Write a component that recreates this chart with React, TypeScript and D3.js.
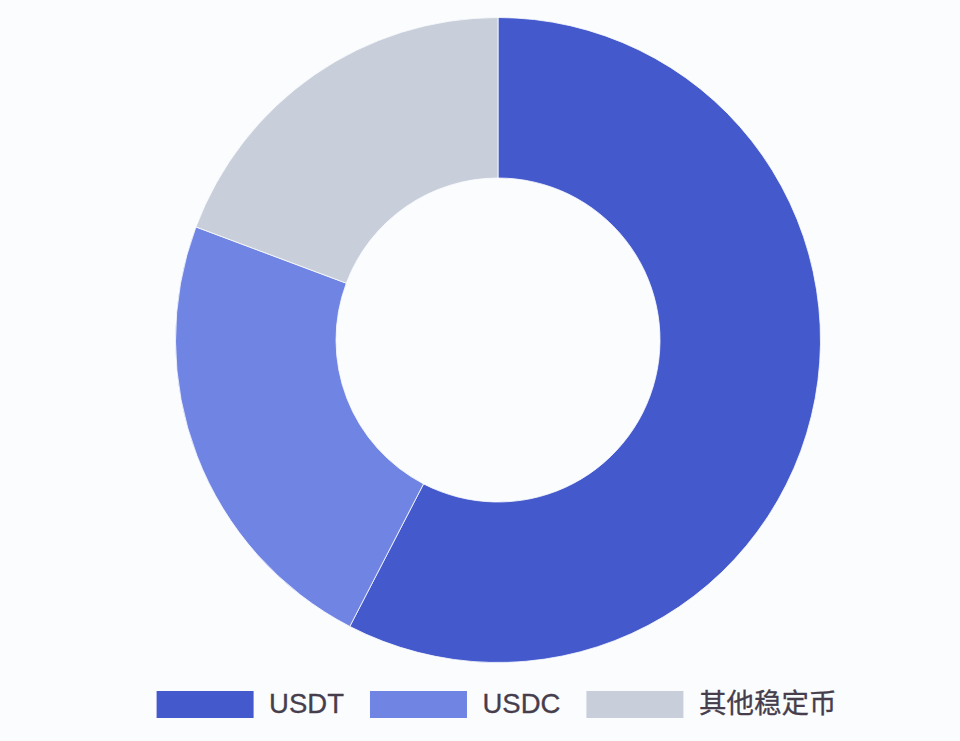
import { useEffect, useRef } from 'react'
import * as d3 from 'd3'

// stablecoin market share (%)
const coins = ['USDT', 'USDC', '其他稳定币']
const shares = [57.6, 23.1, 19.3]
const colors = ['#4459cc', '#7084e4', '#c8cfdb']

const W = 960
const H = 741

export default function App() {
	const ref = useRef<SVGSVGElement>(null)

	useEffect(() => {
		const svg = d3.select(ref.current)
		svg.selectAll('*').remove()

		const cx = 498
		const cy = 340
		const outerR = 322.5
		const innerR = 162

		const pie = d3
			.pie<number>()
			.sort(null)
			.value((d) => d)
		const arc = d3
			.arc<d3.PieArcDatum<number>>()
			.innerRadius(innerR)
			.outerRadius(outerR)

		const color = d3.scaleOrdinal<string, string>().domain(coins).range(colors)

		svg
			.append('g')
			.attr('transform', `translate(${cx},${cy})`)
			.selectAll('path')
			.data(pie(shares))
			.enter()
			.append('path')
			.attr('d', arc)
			.attr('fill', (_d, i) => color(coins[i]))
			.attr('stroke', '#fbfcfe')
			.attr('stroke-width', 0.8)

		// legend, centred under the donut
		const boxW = 97
		const boxH = 27
		const boxGap = 15.5
		const itemGap = 26
		const legendY = 691

		const legend = svg.append('g')
		const items = legend
			.selectAll('g')
			.data(coins)
			.enter()
			.append('g')

		items
			.append('rect')
			.attr('width', boxW)
			.attr('height', boxH)
			.attr('y', legendY)
			.attr('fill', (d) => color(d))

		items
			.append('text')
			.attr('x', boxW + boxGap)
			.attr('y', legendY + 22.3)
			.style('font-family', '"Liberation Sans", Arial, "Noto Sans CJK SC", sans-serif')
			.style('font-size', '27.5px')
			.attr('fill', '#463e4c')
			.attr('stroke', '#463e4c')
			.attr('stroke-width', 0.3)
			.text((d) => d)

		let x = 0
		const widths: number[] = []
		items.each(function () {
			const t = d3.select(this).select('text').node() as SVGTextElement
			widths.push(t.getComputedTextLength())
		})
		const offsets = widths.map((w) => {
			const o = x
			x += boxW + boxGap + w + itemGap
			return o
		})
		const total = x - itemGap
		const start = 496.5 - total / 2
		items.attr('transform', (_d, i) => `translate(${start + offsets[i]},0)`)
	}, [])

	return (
		<svg
			ref={ref}
			width={W}
			height={H}
			style={{ position: 'absolute', left: 0, top: 0, background: '#fbfcfe' }}
		/>
	)
}
